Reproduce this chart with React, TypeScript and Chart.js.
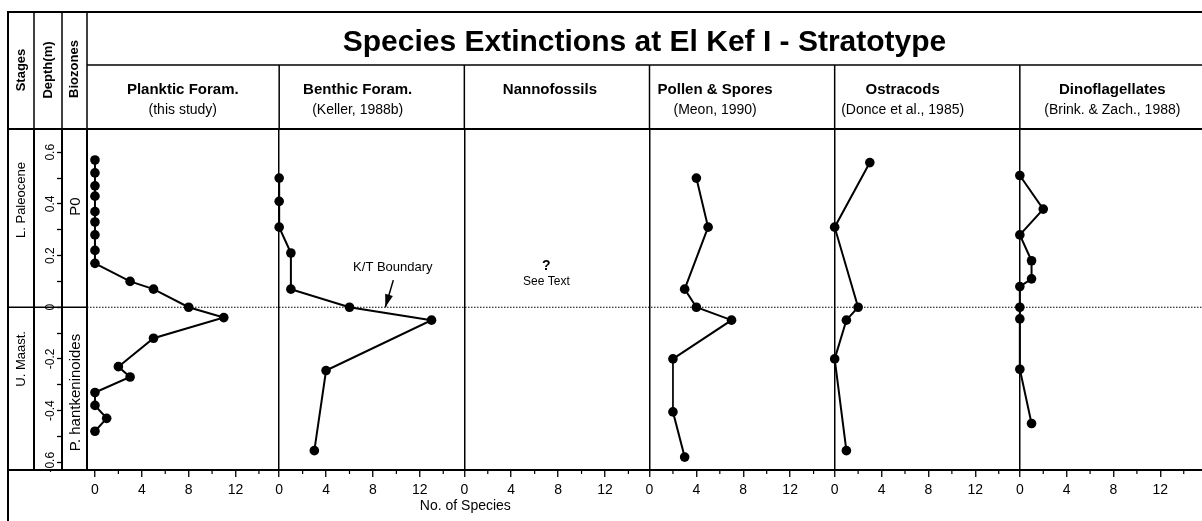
import React, { useEffect, useRef } from 'react';
import { Chart, registerables } from 'chart.js';

Chart.register(...registerables);

// ---------------- data ----------------
const panelNames = ['Planktic Foram.', 'Benthic Foram.', 'Nannofossils', 'Pollen & Spores', 'Ostracods', 'Dinoflagellates'];
const panelSources = ['(this study)', '(Keller, 1988b)', '', '(Meon, 1990)', '(Donce et al., 1985)', '(Brink. & Zach., 1988)'];

const plankticDepth = [0.57, 0.52, 0.47, 0.43, 0.37, 0.33, 0.28, 0.22, 0.17, 0.10, 0.07, 0.0, -0.04, -0.12, -0.23, -0.27, -0.33, -0.38, -0.43, -0.48];
const plankticCount = [0, 0, 0, 0, 0, 0, 0, 0, 0, 3, 5, 8, 11, 5, 2, 3, 0, 0, 1, 0];

const benthicDepth = [0.50, 0.41, 0.31, 0.21, 0.07, 0.0, -0.05, -0.245, -0.555];
const benthicCount = [0, 0, 0, 1, 1, 6, 13, 4, 3];

const pollenDepth = [0.50, 0.31, 0.07, 0.0, -0.05, -0.20, -0.405, -0.58];
const pollenCount = [4, 5, 3, 4, 7, 2, 2, 3];

const ostracodDepth = [0.56, 0.31, 0.0, -0.05, -0.20, -0.555];
const ostracodCount = [3, 0, 2, 1, 0, 1];

const dinoDepth = [0.51, 0.38, 0.28, 0.18, 0.11, 0.08, 0.0, -0.045, -0.24, -0.45];
const dinoCount = [0, 2, 0, 1, 1, 0, 0, 0, 0, 1];

const depthTicks = [-0.6, -0.5, -0.4, -0.3, -0.2, -0.1, 0, 0.1, 0.2, 0.3, 0.4, 0.5, 0.6];
const depthTickLabels = ['-0.6', '', '-0.4', '', '-0.2', '', '0', '', '0.2', '', '0.4', '', '0.6'];

const countTicks = [0, 2, 4, 6, 8, 10, 12, 14];
const countTickLabels = ['0', '', '4', '', '8', '', '12', ''];

const stageNames = ['L. Paleocene', 'U. Maast.'];
const stageAt = [0.415, -0.2];
const zoneNames = ['P0', 'P. hantkeninoides'];
const zoneAt = [0.39, -0.33];

// ---------------- layout / style ----------------
const FONT = '"Liberation Sans", Arial, Helvetica, sans-serif';
const NARROW = '"Liberation Sans Narrow", "Liberation Sans", Arial, sans-serif';
const axisIds = ['x0', 'x1', 'x2', 'x3', 'x4', 'x5'];
const panelMin = [-0.68, 0, 0, 0, 0, 0];
const panelMax = [15.73, 15.8, 15.8, 15.8, 15.8, 15.56];
const panelWeight = [192, 185, 185, 185, 185, 182];
const headerAt = [7.5, 6.7, 7.3, 5.6, 5.8, 7.9];

const series = [
  { axis: 'x0', depth: plankticDepth, count: plankticCount },
  { axis: 'x1', depth: benthicDepth, count: benthicCount },
  { axis: 'x3', depth: pollenDepth, count: pollenCount, thinSegment: 5 },
  { axis: 'x4', depth: ostracodDepth, count: ostracodCount },
  { axis: 'x5', depth: dinoDepth, count: dinoCount },
];

function line(ctx: CanvasRenderingContext2D, x1: number, y1: number, x2: number, y2: number) {
  ctx.beginPath();
  ctx.moveTo(x1, y1);
  ctx.lineTo(x2, y2);
  ctx.stroke();
}

function vtext(ctx: CanvasRenderingContext2D, s: string, x: number, y: number, font: string) {
  ctx.save();
  ctx.translate(x, y);
  ctx.rotate(-Math.PI / 2);
  ctx.font = font;
  ctx.textAlign = 'center';
  ctx.textBaseline = 'middle';
  ctx.fillText(s, 0, 0);
  ctx.restore();
}

const framePlugin = {
  id: 'frame',
  beforeDatasetsDraw(chart: any) {
    const { ctx, chartArea, scales } = chart;
    const y0 = scales.y.getPixelForValue(0);
    ctx.save();
    ctx.strokeStyle = '#000';
    ctx.lineWidth = 1.5;
    line(ctx, 8, y0, chartArea.left, y0);
    ctx.setLineDash([1.5, 1.5]);
    ctx.lineWidth = 1.2;
    line(ctx, chartArea.left, y0, chartArea.right, y0);
    ctx.restore();
  },
  afterDraw(chart: any) {
    const { ctx, chartArea, scales } = chart;
    const L = 8;
    const T = 12;
    const R = chart.width;
    const B = chart.height;
    const top = chartArea.top;
    const bot = chartArea.bottom;
    const left = chartArea.left;
    const rowY = 65;
    ctx.save();
    ctx.strokeStyle = '#000';
    ctx.fillStyle = '#000';
    ctx.lineWidth = 2;
    line(ctx, L, T - 1, L, B);
    line(ctx, L, T, R, T);
    line(ctx, L, top, R, top);
    line(ctx, L, bot, left, bot);
    ctx.lineWidth = 1.5;
    line(ctx, left, rowY, R, rowY);
    [scales.stage.right, scales.y.right, scales.zone.right].forEach((x: number) => line(ctx, x, T, x, top));
    for (let k = 1; k < axisIds.length; k++) {
      const x = scales[axisIds[k]].left;
      line(ctx, x, rowY, x, top);
    }

    // minor count ticks
    ctx.lineWidth = 1.2;
    axisIds.forEach((id) => {
      const s = scales[id];
      countTicks.forEach((v, i) => {
        if (!countTickLabels[i]) {
          const x = s.getPixelForValue(v);
          line(ctx, x, bot, x, bot + 4);
        }
      });
    });

    // title
    ctx.textAlign = 'center';
    ctx.textBaseline = 'alphabetic';
    ctx.font = `bold 30px ${FONT}`;
    ctx.fillText('Species Extinctions at El Kef I - Stratotype', (left + R) / 2, 51);

    // panel headers
    axisIds.forEach((id, k) => {
      const x = scales[id].getPixelForValue(headerAt[k]);
      ctx.font = `bold 15px ${FONT}`;
      ctx.fillText(panelNames[k], x, 94);
      if (panelSources[k]) {
        ctx.font = `14px ${FONT}`;
        ctx.fillText(panelSources[k], x, 114);
      }
    });

    // left column headers
    vtext(ctx, 'Stages', (scales.stage.left + scales.stage.right) / 2, 70, `bold 13px ${FONT}`);
    vtext(ctx, 'Depth(m)', (scales.y.left + scales.y.right) / 2, 70, `bold 13px ${FONT}`);
    vtext(ctx, 'Biozones', (scales.zone.left + scales.zone.right) / 2, 69, `bold 13px ${FONT}`);

    // stages & biozones
    stageNames.forEach((s, i) => vtext(ctx, s, (scales.stage.left + scales.stage.right) / 2, scales.y.getPixelForValue(stageAt[i]), `13px ${FONT}`));
    zoneNames.forEach((s, i) => vtext(ctx, s, (scales.zone.left + scales.zone.right) / 2 + 1, scales.y.getPixelForValue(zoneAt[i]), `15px ${FONT}`));

    // annotations
    const x1 = scales.x1;
    const ys = scales.y;
    ctx.textAlign = 'center';
    ctx.textBaseline = 'middle';
    ctx.font = `13px ${FONT}`;
    ctx.fillText('K/T Boundary', x1.getPixelForValue(9.7), ys.getPixelForValue(0.153));
    const ax = x1.getPixelForValue(9.74);
    const ay = ys.getPixelForValue(0.105);
    const tx = x1.getPixelForValue(9.06);
    const ty = ys.getPixelForValue(0);
    ctx.lineWidth = 1.5;
    line(ctx, ax, ay, tx, ty);
    const ang = Math.atan2(ty - ay, tx - ax);
    ctx.beginPath();
    ctx.moveTo(tx, ty);
    ctx.lineTo(tx - 13 * Math.cos(ang) + 4 * Math.sin(ang), ty - 13 * Math.sin(ang) - 4 * Math.cos(ang));
    ctx.lineTo(tx - 13 * Math.cos(ang) - 4 * Math.sin(ang), ty - 13 * Math.sin(ang) + 4 * Math.cos(ang));
    ctx.closePath();
    ctx.fill();

    const x2 = scales.x2;
    ctx.font = `bold 14px ${FONT}`;
    ctx.fillText('?', x2.getPixelForValue(7.0), ys.getPixelForValue(0.16));
    ctx.font = `12px ${FONT}`;
    ctx.fillText('See Text', x2.getPixelForValue(7.0), ys.getPixelForValue(0.1));

    // axis title
    ctx.font = `14px ${NARROW}`;
    ctx.fillText('No. of Species', scales.x2.left + 1, 506);
    ctx.restore();
  },
};

function buildConfig(): any {
  const scales: any = {
    y: {
      type: 'linear',
      position: 'left',
      weight: 2,
      min: -0.63,
      max: 0.69,
      afterBuildTicks: (s: any) => {
        s.ticks = depthTicks.map((v) => ({ value: v }));
      },
      afterFit: (s: any) => {
        s.width = 28;
        s.paddingTop = 0;
        s.paddingBottom = 0;
      },
      ticks: {
        autoSkip: false,
        minRotation: 90,
        maxRotation: 90,
        crossAlign: 'center',
        padding: -4,
        color: '#000',
        font: { family: FONT, size: 12 },
        callback: (_v: any, i: number) => depthTickLabels[i],
      },
      grid: { drawOnChartArea: false, tickLength: 5, tickColor: '#000', tickWidth: 1.3, color: '#000' },
      border: { display: true, color: '#000', width: 2 },
    },
    zone: {
      type: 'linear',
      position: 'left',
      weight: 1,
      min: -0.63,
      max: 0.69,
      afterFit: (s: any) => {
        s.width = 25;
        s.paddingTop = 0;
        s.paddingBottom = 0;
      },
      ticks: { display: false },
      grid: { display: false, drawTicks: false },
      border: { display: true, color: '#000', width: 2 },
    },
    stage: {
      type: 'linear',
      position: 'left',
      weight: 3,
      min: -0.63,
      max: 0.69,
      afterFit: (s: any) => {
        s.width = 26;
        s.paddingTop = 0;
        s.paddingBottom = 0;
      },
      ticks: { display: false },
      grid: { display: false, drawTicks: false },
      border: { display: true, color: '#000', width: 2 },
    },
  };

  axisIds.forEach((id, k) => {
    scales[id] = {
      type: 'linear',
      position: 'bottom',
      stack: 'count',
      stackWeight: panelWeight[k],
      min: panelMin[k],
      max: panelMax[k],
      afterBuildTicks: (s: any) => {
        s.ticks = countTicks.map((v) => ({ value: v }));
      },
      afterFit: (s: any) => {
        s.height = 51;
        s.paddingLeft = 0;
        s.paddingRight = 0;
      },
      ticks: {
        autoSkip: false,
        minRotation: 0,
        maxRotation: 0,
        padding: 5,
        color: '#000',
        font: { family: NARROW, size: 14 },
        callback: (_v: any, i: number) => countTickLabels[i],
      },
      grid: {
        drawOnChartArea: true,
        color: (c: any) => (k > 0 && c.tick && c.tick.value === 0 ? '#000' : 'rgba(0,0,0,0)'),
        lineWidth: 1.5,
        tickLength: 7,
        tickWidth: 1.3,
        tickColor: (c: any) => (countTickLabels[c.index] ? '#000' : 'rgba(0,0,0,0)'),
      },
      border: { display: true, color: '#000', width: 2 },
    };
  });

  const datasets = series.map((s) => ({
    data: s.count.map((c, i) => ({ x: c, y: s.depth[i] })),
    xAxisID: s.axis,
    yAxisID: 'y',
    showLine: true,
    borderColor: '#000',
    borderWidth: 2,
    backgroundColor: '#000',
    pointRadius: 4.8,
    pointBackgroundColor: '#000',
    pointBorderWidth: 0,
    clip: false,
    segment: {
      borderWidth: (c: any) => (s.thinSegment !== undefined && c.p0DataIndex === s.thinSegment ? 1 : 2),
    },
  }));

  return {
    type: 'scatter',
    data: { datasets },
    options: {
      responsive: false,
      maintainAspectRatio: false,
      animation: false,
      devicePixelRatio: 1,
      events: [],
      layout: { autoPadding: false, padding: { top: 129, left: 8, right: 0, bottom: 0 } },
      plugins: { legend: { display: false }, tooltip: { enabled: false }, title: { display: false } },
      scales,
    },
    plugins: [framePlugin],
  };
}

export default function App() {
  const ref = useRef<HTMLCanvasElement>(null);
  useEffect(() => {
    const canvas = ref.current;
    if (!canvas) return;
    const chart = new Chart(canvas, buildConfig());
    return () => chart.destroy();
  }, []);
  return (
    <canvas
      ref={ref}
      width={1202}
      height={521}
      style={{ position: 'absolute', left: 0, top: 0, width: 1202, height: 521, background: '#fff' }}
    />
  );
}
